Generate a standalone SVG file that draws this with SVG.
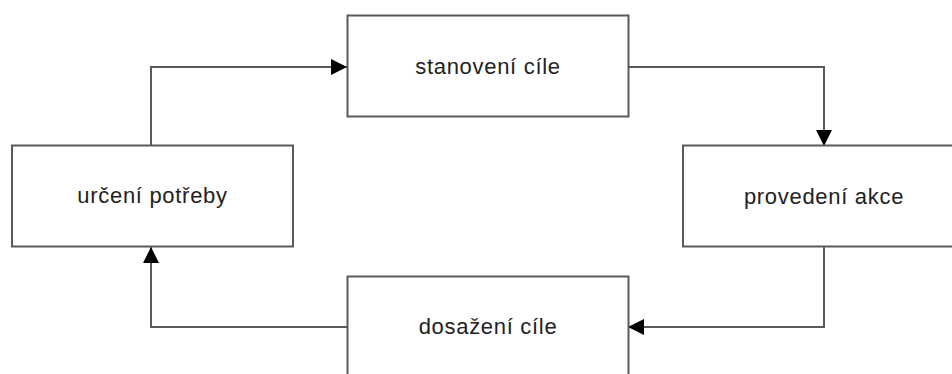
<svg xmlns="http://www.w3.org/2000/svg" width="952" height="374" viewBox="0 0 952 374">
<defs>
<style>
.box{fill:#ffffff;stroke:#5a5a5a;stroke-width:2}
.lbl{font-family:"Liberation Sans",Arial,sans-serif;font-size:22px;fill:#222;text-anchor:middle;letter-spacing:0.7px}
.con{fill:none;stroke:#5a5a5a;stroke-width:2}
</style>
<marker id="arr" markerUnits="userSpaceOnUse" markerWidth="16" markerHeight="16" viewBox="0 0 14 14" refX="14" refY="7" orient="auto">
<path d="M0,0 L14,7 L0,14 Z" fill="#000"/>
</marker>
</defs>
<rect width="952" height="374" fill="#fff"/>
<g id="connectors">
<path class="con" d="M151,146 V67 H347" marker-end="url(#arr)"/>
<path class="con" d="M628,67 H824 V146" marker-end="url(#arr)"/>
<path class="con" d="M824,247 V327 H628" marker-end="url(#arr)"/>
<path class="con" d="M347,327 H151 V247" marker-end="url(#arr)"/>
</g>
<g id="node-stanoveni">
<rect class="box" x="347.5" y="15.5" width="281" height="101"/>
<text class="lbl" x="488" y="74">stanovení cíle</text>
</g>
<g id="node-urceni">
<rect class="box" x="12" y="145.5" width="281" height="101"/>
<text class="lbl" x="152.5" y="203">určení potřeby</text>
</g>
<g id="node-provedeni">
<rect class="box" x="683" y="145.5" width="281" height="101"/>
<text class="lbl" x="824" y="204">provedení akce</text>
</g>
<g id="node-dosazeni">
<rect class="box" x="347.5" y="276.5" width="281" height="101"/>
<text class="lbl" x="488" y="334">dosažení cíle</text>
</g>
</svg>
